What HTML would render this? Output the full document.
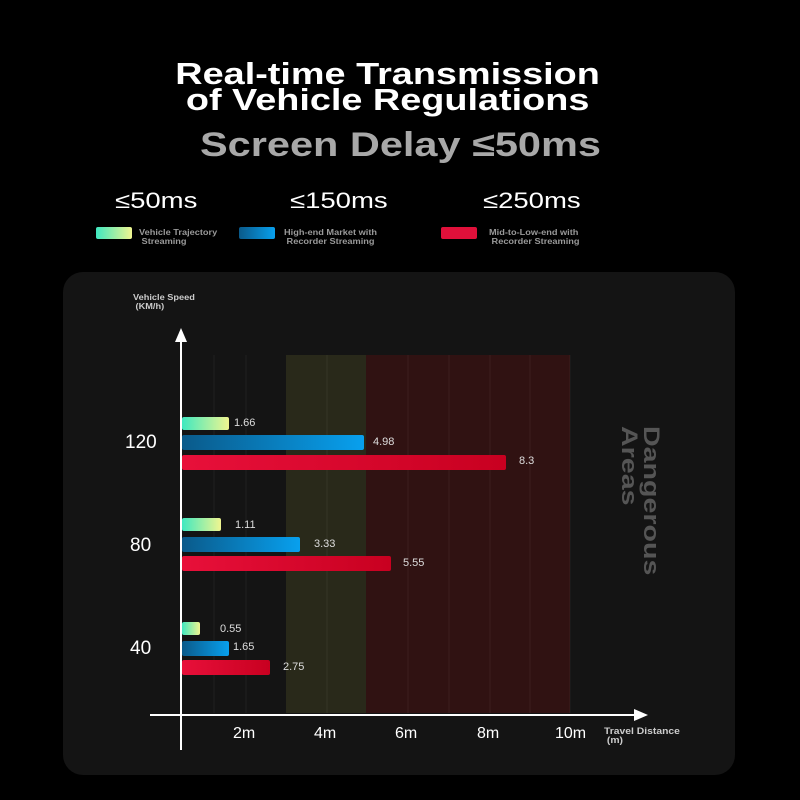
<!DOCTYPE html>
<html><head><style>
body{margin:0;background:#000;width:800px;height:800px;overflow:hidden;font-family:"Liberation Sans",sans-serif;position:relative}
.a{position:absolute;white-space:nowrap}
.t{font-weight:bold;color:#fff;font-size:31px;left:0;width:775px;text-align:center;line-height:26px;transform:scaleX(1.22);transform-origin:387px 0}
.lg{font-size:22px;color:#fff;transform:scaleX(1.25);transform-origin:0 0}
.ll{font-size:8px;font-weight:bold;color:#999;line-height:9px;transform:scaleX(1.15);transform-origin:0 0}
.sw{position:absolute;height:12px;width:36px;border-radius:2px}
.bar{position:absolute;left:182px;border-radius:2px}
.g{background:linear-gradient(90deg,#3fe8c0,#f0f590);height:13px}
.b{background:linear-gradient(90deg,#0a5a8a,#08a0ee);height:15px}
.r{background:linear-gradient(90deg,#e8103a,#c80020);height:15px}
.v{font-size:11px;color:#ddd}
.xt{font-size:16px;color:#fff;top:725px}
.yt{font-size:19px;color:#fff;left:125px}
</style></head><body>
<div class="a t" style="top:61px">Real-time Transmission</div>
<div class="a t" style="top:87px">of Vehicle Regulations</div>
<div class="a" style="top:126px;left:200px;font-size:34px;font-weight:bold;color:#a8a8a8;transform:scaleX(1.22);transform-origin:0 0">Screen Delay ≤50ms</div>
<div class="a lg" style="left:115px;top:188px">≤50ms</div>
<div class="a lg" style="left:290px;top:188px">≤150ms</div>
<div class="a lg" style="left:483px;top:188px">≤250ms</div>
<div class="sw" style="left:96px;top:227px;background:linear-gradient(90deg,#3fe8c0,#f0f590)"></div>
<div class="a ll" style="left:139px;top:228px">Vehicle Trajectory<br>&nbsp;Streaming</div>
<div class="sw" style="left:239px;top:227px;background:linear-gradient(90deg,#0a5a8a,#08a0ee)"></div>
<div class="a ll" style="left:284px;top:228px">High-end Market with<br>&nbsp;Recorder Streaming</div>
<div class="sw" style="left:441px;top:227px;background:#e0103a"></div>
<div class="a ll" style="left:489px;top:228px">Mid-to-Low-end with<br>&nbsp;Recorder Streaming</div>

<div class="a" style="left:63px;top:272px;width:672px;height:503px;background:#141414;border-radius:20px"></div>
<div class="a" style="left:286px;top:355px;width:80px;height:358px;background:#29291a"></div>
<div class="a" style="left:366px;top:355px;width:204px;height:358px;background:#301212"></div>
<svg class="a" style="left:0;top:0" width="800" height="800">
<g stroke="#ffffff" stroke-opacity="0.06">
<line x1="214" y1="355" x2="214" y2="713"/><line x1="246" y1="355" x2="246" y2="713"/><line x1="327" y1="355" x2="327" y2="713"/><line x1="408" y1="355" x2="408" y2="713"/><line x1="449" y1="355" x2="449" y2="713"/><line x1="490" y1="355" x2="490" y2="713"/><line x1="530" y1="355" x2="530" y2="713"/><line x1="570" y1="355" x2="570" y2="713"/>
</g>
<line x1="181" y1="338" x2="181" y2="750" stroke="#fff" stroke-width="2"/>
<polygon points="181,328 175,342 187,342" fill="#fff"/>
<line x1="150" y1="715" x2="638" y2="715" stroke="#fff" stroke-width="2"/>
<polygon points="648,715 634,709 634,721" fill="#fff"/>
</svg>
<div class="a ll" style="left:133px;top:293px;color:#ccc">Vehicle Speed<br>&nbsp;(KM/h)</div>
<div class="bar g" style="top:417px;width:47px"></div>
<div class="bar b" style="top:435px;width:182px"></div>
<div class="bar r" style="top:455px;width:324px"></div>
<div class="bar g" style="top:518px;width:39px"></div>
<div class="bar b" style="top:537px;width:118px"></div>
<div class="bar r" style="top:556px;width:209px"></div>
<div class="bar g" style="top:622px;width:18px"></div>
<div class="bar b" style="top:641px;width:47px"></div>
<div class="bar r" style="top:660px;width:88px"></div>
<div class="a v" style="left:234px;top:417px">1.66</div>
<div class="a v" style="left:373px;top:436px">4.98</div>
<div class="a v" style="left:519px;top:455px">8.3</div>
<div class="a v" style="left:235px;top:519px">1.11</div>
<div class="a v" style="left:314px;top:538px">3.33</div>
<div class="a v" style="left:403px;top:557px">5.55</div>
<div class="a v" style="left:220px;top:623px">0.55</div>
<div class="a v" style="left:233px;top:641px">1.65</div>
<div class="a v" style="left:283px;top:661px">2.75</div>
<div class="a yt" style="top:432px">120</div>
<div class="a yt" style="left:130px;top:535px">80</div>
<div class="a yt" style="left:130px;top:638px">40</div>
<div class="a xt" style="left:233px">2m</div>
<div class="a xt" style="left:314px">4m</div>
<div class="a xt" style="left:395px">6m</div>
<div class="a xt" style="left:477px">8m</div>
<div class="a xt" style="left:555px">10m</div>
<div class="a ll" style="left:604px;top:727px;color:#ccc;font-size:9px">Travel Distance<br>&nbsp;(m)</div>
<div class="a" style="left:612px;top:426px;font-size:22px;font-weight:bold;color:#555;line-height:22px;transform-origin:0 0;transform:translate(50px,0) rotate(90deg) scaleX(1.3)">Dangerous<br>Areas</div>
</body></html>
